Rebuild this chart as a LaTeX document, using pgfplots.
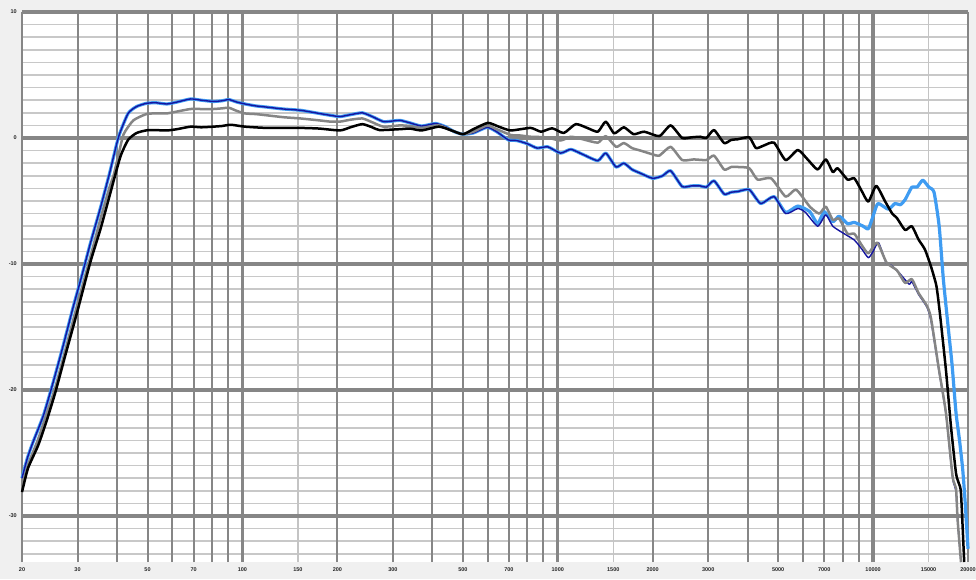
\documentclass[border=0pt]{standalone}
\usepackage{pgfplots}
\pgfplotsset{compat=1.18}
\usepackage{fontspec}
\setmainfont{Liberation Sans}
\definecolor{bgc}{HTML}{F0F0F0}
\definecolor{gmaj}{HTML}{868686}
\definecolor{gmin}{HTML}{C8C8C8}
\definecolor{glight}{HTML}{C4C4C4}
\definecolor{cgray}{HTML}{858585}
\definecolor{clb}{HTML}{3F9CF2}
\definecolor{cdb}{HTML}{1414A0}

\pgfplotstableread{
f db
20 -27.0
20.8 -25.4
21.7 -24.1
23.4 -22.0
25.1 -19.4
27.0 -16.5
29.0 -13.5
30.9 -11.0
33.0 -8.3
35.5 -5.5
37.9 -2.8
40.5 0.1
43.4 1.95
46.2 2.5
49.6 2.75
53 2.8
57.6 2.7
62 2.85
68.5 3.1
74 3.0
80.8 2.9
86 2.95
90.6 3.05
96 2.85
101.9 2.7
110 2.55
119.6 2.45
135 2.3
152.8 2.2
175 1.95
190 1.8
204 1.7
220 1.85
240 2.0
258 1.7
280 1.3
300 1.35
316 1.4
340 1.2
370 0.95
410 1.15
440 0.9
470 0.5
500 0.3
540 0.4
597 0.85
640 0.5
697 -0.15
740 -0.2
800 -0.45
860 -0.8
930 -0.7
1020 -1.2
1100 -0.9
1200 -1.3
1340 -1.8
1420 -1.2
1530 -2.3
1620 -2.0
1720 -2.5
1830 -2.8
2000 -3.2
2150 -3.0
2280 -2.6
2480 -3.85
2650 -3.8
2830 -3.8
2960 -3.9
3130 -3.4
3370 -4.45
3550 -4.3
3720 -4.25
4050 -4.1
4400 -5.2
4850 -4.65
5280 -5.9
5770 -5.4
6300 -5.85
6670 -6.8
7000 -5.85
7450 -6.65
7800 -6.2
8300 -6.8
8720 -6.7
9300 -7.0
9660 -7.2
10000 -6.2
10360 -5.2
11170 -5.65
11730 -5.2
12200 -5.3
12630 -4.9
13270 -3.9
13780 -3.9
14370 -3.35
15020 -3.9
15600 -4.3
16200 -7.0
16700 -11.2
17300 -15.0
17800 -18.0
18320 -21.8
18800 -24.0
19240 -26.3
19600 -29.0
20000 -32.6
}\lightblue

\pgfplotstableread{
f db
20 -27.0
20.8 -25.4
21.7 -24.1
23.4 -22.0
25.1 -19.4
27.0 -16.5
29.0 -13.5
30.9 -11.0
33.0 -8.3
35.5 -5.5
37.9 -2.8
40.5 0.1
43.4 1.95
46.2 2.5
49.6 2.75
53 2.8
57.6 2.7
62 2.85
68.5 3.1
74 3.0
80.8 2.9
86 2.95
90.6 3.05
96 2.85
101.9 2.7
110 2.55
119.6 2.45
135 2.3
152.8 2.2
175 1.95
190 1.8
204 1.7
220 1.85
240 2.0
258 1.7
280 1.3
300 1.35
316 1.4
340 1.2
370 0.95
410 1.15
440 0.9
470 0.5
500 0.3
540 0.4
597 0.85
640 0.5
697 -0.15
740 -0.2
800 -0.45
860 -0.8
930 -0.7
1020 -1.2
1100 -0.9
1200 -1.3
1340 -1.8
1420 -1.2
1530 -2.3
1620 -2.0
1720 -2.5
1830 -2.8
2000 -3.2
2150 -3.0
2280 -2.6
2480 -3.85
2650 -3.8
2830 -3.8
2960 -3.9
3130 -3.4
3370 -4.45
3550 -4.3
3720 -4.25
4050 -4.1
4400 -5.2
4850 -4.65
5280 -6.0
5770 -5.6
6100 -5.9
6670 -7.0
7080 -6.1
7450 -7.0
8100 -7.6
8720 -8.1
9200 -8.8
9660 -9.5
10000 -9.0
10400 -8.3
11000 -9.9
11400 -10.1
12100 -10.7
13000 -11.6
13270 -11.4
13930 -12.4
14800 -13.4
15260 -14.5
16180 -18.5
17020 -21.9
17880 -27.0
18320 -28.0
18540 -30.4
19000 -33.65
}\darkblue

\pgfplotstableread{
f db
20 -27.6
21 -25.8
22.5 -23.9
24.0 -21.8
25.5 -19.8
27.4 -16.9
29.9 -13.3
32.9 -9.5
35.5 -6.4
37.9 -3.9
39.0 -3.0
40.5 -1.3
42.0 0.3
45.1 1.4
49.6 1.9
53 1.95
57.6 1.95
62 2.1
68.5 2.3
74 2.3
80.8 2.3
86 2.35
90.6 2.4
96 2.15
101.9 1.95
110 1.9
119.6 1.8
135 1.65
152.8 1.55
175 1.4
190 1.3
204 1.3
220 1.45
240 1.55
258 1.25
280 0.9
316 1.0
340 0.95
370 0.8
420 1.0
460 0.6
500 0.3
540 0.5
597 1.0
640 0.7
710 0.24
760 0.2
820 0.1
920 0.05
1020 -0.2
1100 0.1
1200 -0.1
1340 -0.37
1420 0.15
1530 -0.7
1620 -0.4
1720 -0.8
1830 -1.0
2000 -1.3
2100 -1.4
2280 -0.7
2480 -1.75
2700 -1.7
2960 -1.75
3130 -1.4
3370 -2.5
3550 -2.3
3720 -2.3
4050 -2.4
4300 -3.3
4750 -3.2
5280 -4.65
5700 -4.1
6300 -5.45
6750 -6.0
7080 -5.45
7450 -6.5
7800 -6.4
8300 -7.6
8720 -7.6
9200 -8.5
9660 -9.15
10300 -8.3
11040 -9.9
11900 -10.5
12630 -11.5
13270 -11.2
13930 -12.3
14800 -13.3
15260 -14.3
16180 -18.4
17020 -21.8
17880 -26.9
18320 -27.8
18540 -30.3
19000 -33.65
}\graycurve

\pgfplotstableread{
f db
20 -28.1
20.9 -26.2
22.5 -24.4
23.9 -22.5
25.5 -20.2
27.4 -17.3
29.9 -13.85
32.9 -9.9
35.5 -7.2
37.9 -4.6
41.0 -1.5
43.4 -0.15
46.2 0.4
50.4 0.63
57.6 0.6
62 0.7
68.5 0.9
74 0.85
80.8 0.9
86 0.95
91.9 1.05
101.9 0.9
119.6 0.8
152.8 0.8
175 0.75
204 0.6
220 0.85
240 1.1
258 0.85
272 0.63
316 0.7
340 0.75
370 0.6
420 0.9
460 0.6
500 0.3
540 0.7
600 1.2
650 0.9
710 0.6
820 0.8
885 0.5
960 0.77
1045 0.4
1140 1.1
1240 0.8
1340 0.5
1420 1.3
1510 0.37
1620 0.85
1740 0.3
1880 0.5
2100 0.15
2280 1.0
2480 0.0
2650 0.05
2830 0.1
2960 0.0
3130 0.63
3370 -0.4
3550 -0.15
3720 -0.1
4050 0.05
4250 -0.8
4500 -0.6
4850 -0.37
5280 -1.75
5770 -0.95
6200 -1.7
6670 -2.5
7080 -1.7
7450 -2.7
7720 -2.4
8300 -3.3
8720 -3.2
9200 -4.2
9660 -5.05
10230 -3.8
10900 -5.0
11500 -6.0
11900 -6.35
12630 -7.3
13270 -7.0
13930 -8.05
14600 -8.85
15260 -10.2
15880 -11.75
16300 -14.0
17020 -18.4
17660 -22.9
18320 -26.6
18700 -27.4
19000 -28.2
19450 -33.65
}\blackcurve

\begin{document}
\begin{tikzpicture}[x=1pt,y=1pt]
\fill[bgc] (0,0) rectangle (976,579);
\begin{axis}[
  at={(22pt,17pt)}, anchor=south west,
  scale only axis, width=946pt, height=550pt,
  xmode=log, xmin=20, xmax=20000, ymin=-33.65, ymax=10,
  axis line style={draw=none},
  axis background/.style={fill=white},
  clip=false,
  xtick={20,30,50,70,100,150,200,300,500,700,1000,1500,2000,3000,5000,7000,10000,15000,20000},
  xticklabels={20,30,50,70,100,150,200,300,500,700,1000,1500,2000,3000,5000,7000,10000,15000,20000},
  ytick={-30,-20,-10,0,10},
  yticklabels={-30,-20,-10,0,10},
  major tick length=0pt, minor tick length=0pt,
  tick style={draw=none},
  ticklabel style={font=\fontsize{5.5}{6}\selectfont\bfseries, text=black!85, inner sep=0pt},
  xticklabel style={anchor=center, yshift=-8pt},
  yticklabel style={anchor=east, xshift=-5pt},
]
% minor horizontal grid (1 dB)
\pgfplotsinvokeforeach{-33,-32,...,9}{
  \draw[gmin, line width=1.6pt] (axis cs:20,#1) -- (axis cs:20000,#1);
}
% light vertical lines
\pgfplotsinvokeforeach{150,1500,15000}{
  \draw[glight, line width=1.3pt] (axis cs:#1,-33.65) -- (axis cs:#1,10);
}
% vertical grid
\pgfplotsinvokeforeach{20,30,40,50,60,70,80,90,200,300,400,500,600,700,800,900,2000,3000,4000,5000,6000,7000,8000,9000,20000}{
  \draw[gmaj, line width=2pt] (axis cs:#1,-33.65) -- (axis cs:#1,10);
}
\pgfplotsinvokeforeach{100,1000,10000}{
  \draw[gmaj, line width=3.3pt] (axis cs:#1,-33.65) -- (axis cs:#1,10);
}
% major horizontal grid
\pgfplotsinvokeforeach{-30,-20,-10,0,10}{
  \draw[gmaj, line width=3.5pt] (axis cs:20,#1) -- (axis cs:20000,#1);
}
\addplot[clb, line width=3.2pt, smooth, tension=0.35, line join=round] table[x=f,y=db] {\lightblue};
\addplot[cdb, line width=1.4pt, smooth, tension=0.35, line join=round] table[x=f,y=db] {\darkblue};
\addplot[cgray, line width=2.5pt, smooth, tension=0.35, line join=round] table[x=f,y=db] {\graycurve};
\addplot[black, line width=2.5pt, smooth, tension=0.35, line join=round] table[x=f,y=db] {\blackcurve};
\end{axis}
\pgfresetboundingbox
\path (0,0) rectangle (976,579);
\end{tikzpicture}
\end{document}
